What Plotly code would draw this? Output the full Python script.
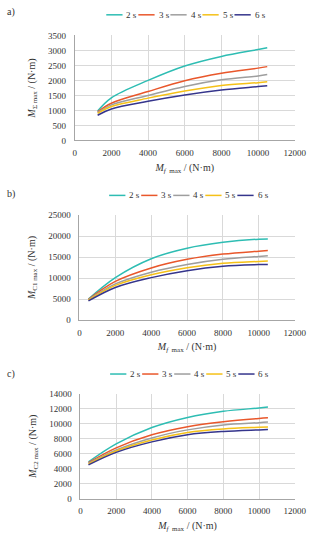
import plotly.graph_objects as go

W, H = 323, 539
FONT = "Liberation Serif, Times New Roman, serif"

series_names = ["2 s", "3 s", "4 s", "5 s", "6 s"]
series_colors = ["#2EBDB3", "#E9572B", "#9E9E9E", "#F5C118", "#35358C"]

# Panel a) M_Σmax vs M_f max
a_x = [1250, 2000, 4000, 6000, 8000, 10000, 10500]
a_2s = [980, 1420, 2000, 2480, 2800, 3030, 3090]
a_3s = [950, 1240, 1630, 1990, 2240, 2410, 2460]
a_4s = [925, 1185, 1500, 1800, 2020, 2150, 2195]
a_5s = [900, 1130, 1410, 1650, 1835, 1925, 1955]
a_6s = [840, 1050, 1305, 1515, 1680, 1795, 1825]

# Panel b) M_C1max
b_x = [500, 2000, 4000, 6000, 8000, 10000, 10500]
b_2s = [5000, 10100, 14600, 17100, 18500, 19250, 19300]
b_3s = [4950, 9200, 12400, 14450, 15700, 16400, 16550]
b_4s = [4850, 8600, 11400, 13250, 14500, 15150, 15300]
b_5s = [4750, 8250, 10800, 12450, 13500, 13950, 14050]
b_6s = [4550, 7750, 10100, 11750, 12800, 13200, 13250]

# Panel c) M_C2max
c_x = [450, 2000, 4000, 6000, 8000, 10000, 10500]
c_2s = [4900, 7300, 9480, 10830, 11650, 12090, 12220]
c_3s = [4800, 6780, 8520, 9600, 10260, 10700, 10780]
c_4s = [4700, 6480, 8090, 9170, 9830, 10130, 10220]
c_5s = [4600, 6350, 7830, 8830, 9300, 9520, 9570]
c_6s = [4500, 6170, 7570, 8520, 8960, 9170, 9220]

x_ticks = [0, 2000, 4000, 6000, 8000, 10000, 12000]

panels = [
    dict(label="a)", x=a_x, ys=[a_2s, a_3s, a_4s, a_5s, a_6s], yrange=[0, 3500], dtick=500,
         ytitle="<i>M</i><sub>Σ max</sub> / (N·m)",
         xtitle="<i>M</i><sub><i>f</i>  max</sub> / (N·m)",
         px=(76, 306), py=(31, 138), leg_y=10, leg_x=109, lab_y=7),
    dict(label="b)", x=b_x, ys=[b_2s, b_3s, b_4s, b_5s, b_6s], yrange=[0, 25000], dtick=5000,
         ytitle="<i>M</i><sub>C1 max</sub> / (N·m)",
         xtitle="<i>M</i><sub><i>f</i>  max</sub> / (N·m)",
         px=(81, 306), py=(214, 321), leg_y=194, leg_x=112, lab_y=193),
    dict(label="c)", x=c_x, ys=[c_2s, c_3s, c_4s, c_5s, c_6s], yrange=[0, 14000], dtick=2000,
         ytitle="<i>M</i><sub>C2 max</sub> / (N·m)",
         xtitle="<i>M</i><sub><i>f</i>  max</sub> / (N·m)",
         px=(82, 306), py=(396, 503), leg_y=376, leg_x=113, lab_y=376),
]

fig = go.Figure()
shapes = []
annotations = []
layout = {}

for i, p in enumerate(panels):
    k = "" if i == 0 else str(i + 1)
    for name, color, y in zip(series_names, series_colors, p["ys"]):
        fig.add_trace(go.Scatter(
            x=p["x"], y=y, name=name, mode="lines",
            line=dict(color=color, width=1.5, shape="spline", smoothing=1.0),
            xaxis="x" + k, yaxis="y" + k, showlegend=False,
        ))
    x0, x1 = p["px"]
    y0, y1 = p["py"]
    layout["xaxis" + k] = dict(
        domain=[x0 / W, x1 / W], anchor="y" + k, range=[0, 12000],
        tickvals=x_ticks, tickformat="d", showgrid=True, gridcolor="#D9D9D9", gridwidth=1,
        showline=True, linecolor="#A6A6A6", linewidth=1, zeroline=False,
        ticks="", tickfont=dict(family=FONT, size=9, color="#333"),
        ticklabelstandoff=4,
        title=dict(text=p["xtitle"], font=dict(family=FONT, size=10, color="#333"), standoff=6),
    )
    layout["yaxis" + k] = dict(
        domain=[1 - y1 / H, 1 - y0 / H], anchor="x" + k, range=p["yrange"],
        dtick=p["dtick"], tickformat="d", showgrid=True, gridcolor="#D9D9D9", gridwidth=1,
        showline=True, linecolor="#A6A6A6", linewidth=1, zeroline=False,
        ticks="", tickfont=dict(family=FONT, size=9, color="#333"),
        ticklabelstandoff=6,
        title=dict(text=p["ytitle"], font=dict(family=FONT, size=10, color="#333"), standoff=10),
    )
    annotations.append(dict(text=p["label"], x=3 / W, y=1 - p["lab_y"] / H, xref="paper", yref="paper",
                            xanchor="left", yanchor="middle", showarrow=False,
                            font=dict(family=FONT, size=10, color="#333")))
    for j, (name, color) in enumerate(zip(series_names, series_colors)):
        lx = p["leg_x"] + j * 33.5
        ly = 1 - p["leg_y"] / H
        shapes.append(dict(type="line", xref="paper", yref="paper",
                           x0=lx / W, x1=(lx + 17) / W, y0=ly, y1=ly,
                           line=dict(color=color, width=1.5)))
        annotations.append(dict(text=name, x=(lx + 19) / W, y=ly, xref="paper", yref="paper",
                                xanchor="left", yanchor="middle", showarrow=False,
                                font=dict(family=FONT, size=9, color="#333")))

fig.update_layout(
    width=W, height=H, margin=dict(l=0, r=0, t=0, b=0),
    paper_bgcolor="white", plot_bgcolor="white",
    showlegend=False, shapes=shapes, annotations=annotations,
    font=dict(family=FONT),
    **layout,
)

fig.write_html("out.html")
